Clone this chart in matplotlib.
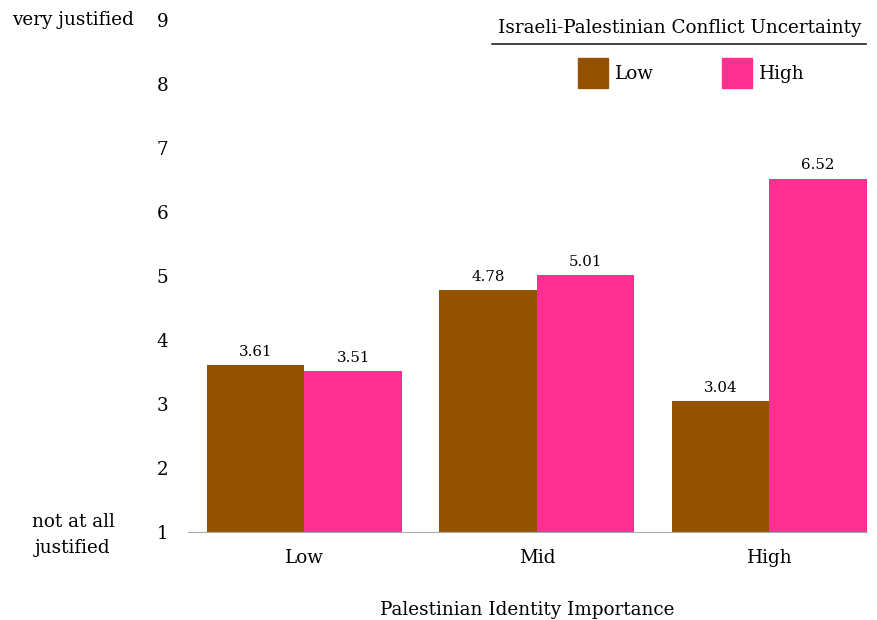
import numpy as np
import matplotlib.pyplot as plt
from matplotlib.patches import Rectangle
from matplotlib.lines import Line2D

plt.rcParams['font.family'] = ['DejaVu Serif']

# Data
groups = ['Low', 'Mid', 'High']
low_uncertainty = [3.61, 4.78, 3.04]
high_uncertainty = [3.51, 5.01, 6.52]
series_names = ['Low', 'High']
colors = ['#945200', '#FF2F92']
base = 1

fs = 13.2

fig = plt.figure(figsize=(8.77, 6.2), dpi=100)
ax = fig.add_axes([0.2144, 0.1419, 0.7742, 0.8258])

x = np.arange(len(groups))
w = 0.42
b1 = ax.bar(x - w / 2, np.array(low_uncertainty) - base, w, bottom=base,
            color=colors[0])
b2 = ax.bar(x + w / 2, np.array(high_uncertainty) - base, w, bottom=base,
            color=colors[1])

for bars, vals in [(b1, low_uncertainty), (b2, high_uncertainty)]:
    for r, v in zip(bars, vals):
        ax.text(r.get_x() + r.get_width() / 2, v + 0.1, f'{v:.2f}',
                ha='center', va='bottom', fontsize=10.8)

ax.set_xlim(-0.5, 2.42)
ax.set_ylim(1, 9)
ax.set_yticks(range(1, 10))
ax.set_xticks(x)
ax.set_xticklabels(groups)
ax.tick_params(length=0, labelsize=fs)
ax.tick_params(axis='y', pad=14)
ax.tick_params(axis='x', pad=12)
for s in ['top', 'right', 'left']:
    ax.spines[s].set_visible(False)
ax.spines['bottom'].set_color('#aaaaaa')
ax.set_xlabel('Palestinian Identity Importance', fontsize=fs, labelpad=25)

# end labels for the scale
fig.text(73 / 877, 1 - 20 / 620, 'very justified', ha='center', va='center',
         fontsize=fs)
fig.text(73 / 877, 1 - 535 / 620, 'not at all\njustified', ha='center',
         va='center', fontsize=fs, linespacing=1.6)

# legend
fig.text(680 / 877, 1 - 28 / 620, 'Israeli-Palestinian Conflict Uncertainty',
         ha='center', va='center', fontsize=fs)
fig.add_artist(Line2D([492 / 877, 866 / 877], [1 - 44 / 620, 1 - 44 / 620],
                      color='#222222', lw=1.2))
for xs, name, c in zip([578, 722], series_names, colors):
    fig.add_artist(Rectangle((xs / 877, 1 - 88 / 620), 30 / 877, 30 / 620,
                             color=c, transform=fig.transFigure))
    fig.text((xs + 37) / 877, 1 - 74 / 620, name, ha='left', va='center',
             fontsize=fs)

plt.savefig('out.png', dpi=100)
